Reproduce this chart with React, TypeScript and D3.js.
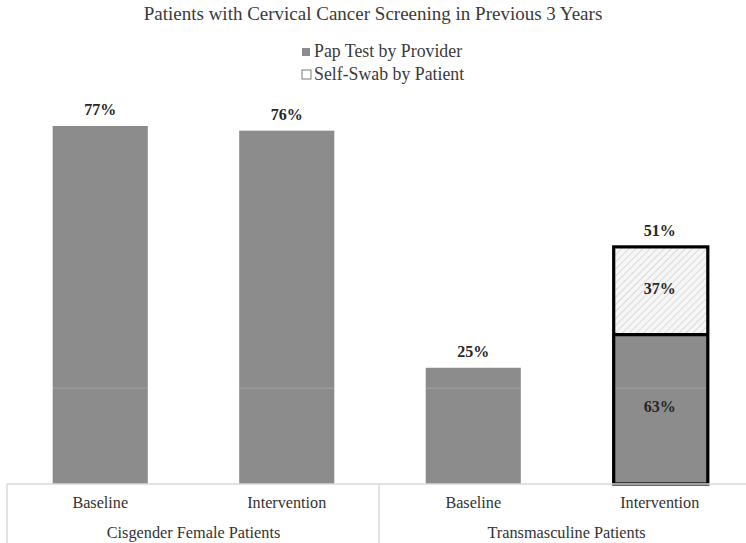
import React from "react";
import * as d3 from "d3";

// Screening rates by patient group and study period
const groupNames = ["Cisgender Female Patients", "Transmasculine Patients"];
const periods = ["Baseline", "Intervention"];
const totals = [77, 76, 25, 51];
// share of each bar's total done by method (percent of total)
const papShare = [100, 100, 100, 63];
const swabShare = [0, 0, 0, 37];
const seriesNames = ["Pap Test by Provider", "Self-Swab by Patient"];
const gridValues = [20.6];
const title = "Patients with Cervical Cancer Screening in Previous 3 Years";

const W = 746;
const H = 543;
const FONT = "'Liberation Serif', 'Times New Roman', serif";

export default function App() {
  const keys = totals.map((_, i) => `${i}`);
  const x = d3
    .scaleBand<string>()
    .domain(keys)
    .range([7, 753])
    .paddingInner(0.49)
    .paddingOuter(0.245);
  const y = d3.scaleLinear().domain([0, 77]).range([484, 126]);
  const step = x.step();
  const left = 7;

  const bars = totals.map((t, i) => {
    const pap = (t * papShare[i]) / 100;
    const swab = (t * swabShare[i]) / 100;
    return { i, total: t, pap, swab, share: [papShare[i], swabShare[i]] };
  });

  return (
    <div style={{ position: "fixed", left: 0, top: 0, width: W, height: H, background: "#fff" }}>
      <svg width={W} height={H} style={{ display: "block" }} fontFamily={FONT}>
        <defs>
          <pattern
            id="hatch"
            patternUnits="userSpaceOnUse"
            width={5}
            height={5}
            patternTransform="rotate(45)"
          >
            <rect width={5} height={5} fill="#f6f6f6" />
            <line x1={0} y1={0} x2={0} y2={5} stroke="#c9c9c9" strokeWidth={1.2} />
          </pattern>
        </defs>

        {/* title */}
        <text x={373} y={20} textAnchor="middle" fontSize={19} fill="#3a3a3a">
          {title}
        </text>

        {/* legend */}
        <rect x={302} y={48} width={8} height={8} fill="#8c8c8c" />
        <text x={314} y={57} fontSize={17.8} fill="#3a3a3a">
          {seriesNames[0]}
        </text>
        <rect x={302} y={70} width={9} height={9} fill="#fff" stroke="#7a7a7a" strokeWidth={1} />
        <text x={314} y={80} fontSize={17.8} fill="#3a3a3a">
          {seriesNames[1]}
        </text>

        {/* bars */}
        {bars.map((b) => {
          const bx = x(`${b.i}`)!;
          const bw = x.bandwidth();
          const yPapTop = y(b.pap);
          const yTop = y(b.total);
          const stacked = b.swab > 0;
          return (
            <g key={b.i}>
              <rect x={bx} y={yPapTop} width={bw} height={y(0) - yPapTop} fill="#8c8c8c" />
              {stacked && (
                <rect x={bx} y={yTop} width={bw} height={yPapTop - yTop} fill="url(#hatch)" />
              )}
            </g>
          );
        })}

        {/* faint reference line over bars */}
        {gridValues.map((g) => (
          <line
            key={g}
            x1={left}
            x2={753}
            y1={y(g)}
            y2={y(g)}
            stroke="#ffffff"
            strokeOpacity={0.12}
            strokeWidth={1.5}
          />
        ))}

        {/* outlines of stacked bars */}
        {bars
          .filter((b) => b.swab > 0)
          .map((b) => {
            const bx = x(`${b.i}`)!;
            const bw = x.bandwidth();
            return (
              <g key={`o${b.i}`} fill="none" stroke="#000" strokeWidth={3.2}>
                <rect x={bx + 1.5} y={y(b.total)} width={bw - 1} height={y(0) - y(b.total)} />
                <line x1={bx + 1.5} x2={bx + bw + 0.5} y1={y(b.pap)} y2={y(b.pap)} />
              </g>
            );
          })}

        {/* value labels */}
        {bars.map((b) => {
          const cx = x(`${b.i}`)! + x.bandwidth() / 2;
          const stacked = b.swab > 0;
          return (
            <g key={`l${b.i}`} fontSize={16} fontWeight="bold" fill="#262626" textAnchor="middle">
              <text x={cx} y={y(b.total) - 11}>
                {`${b.total}%`}
              </text>
              {stacked && (
                <>
                  <text x={cx} y={(y(b.total) + y(b.pap)) / 2 + 3}>{`${b.share[1]}%`}</text>
                  <text x={cx} y={(y(b.pap) + y(0)) / 2 + 3}>{`${b.share[0]}%`}</text>
                </>
              )}
            </g>
          );
        })}

        {/* category axis */}
        <line x1={left} x2={753} y1={y(0)} y2={y(0)} stroke="#d9d9d9" strokeWidth={1.5} />
        {[0, 1, 2].map((k) => (
          <line
            key={k}
            x1={left + k * 2 * step - (k === 1 ? 1 : 0)}
            x2={left + k * 2 * step - (k === 1 ? 1 : 0)}
            y1={y(0)}
            y2={H}
            stroke="#d9d9d9"
            strokeWidth={1.5}
          />
        ))}
        {keys.map((k, i) => (
          <text
            key={`c${k}`}
            x={x(k)! + x.bandwidth() / 2}
            y={508}
            textAnchor="middle"
            fontSize={16.2}
            fill="#333"
          >
            {periods[i % 2]}
          </text>
        ))}
        {groupNames.map((g, gi) => (
          <text
            key={g}
            x={left + step * (gi * 2 + 1)}
            y={538}
            textAnchor="middle"
            fontSize={16.3}
            fill="#333"
          >
            {g}
          </text>
        ))}
      </svg>
    </div>
  );
}
